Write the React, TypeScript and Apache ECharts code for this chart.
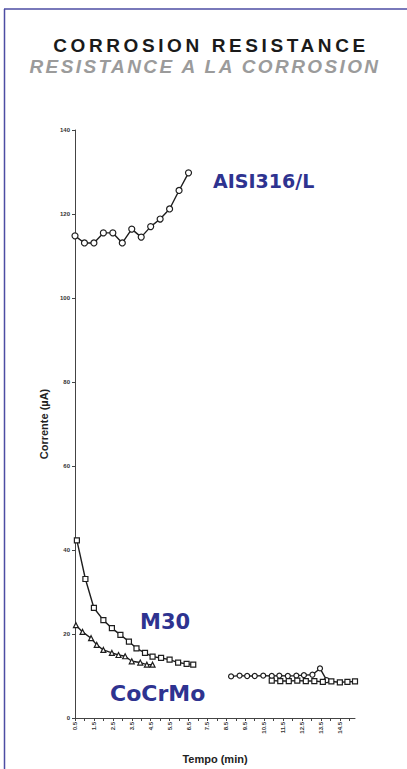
import React, { useEffect, useRef } from "react";
import * as echarts from "echarts";

const titleMain = "CORROSION RESISTANCE";
const titleSub = "RESISTANCE A LA CORROSION";
const yAxisName = "Corrente (µA)";
const xAxisName = "Tempo (min)";

const aisiTime = [0.5, 1.0, 1.5, 2.0, 2.5, 3.0, 3.5, 4.0, 4.5, 5.0, 5.5, 6.0, 6.5];
const aisiCurrent = [114.8, 113.1, 113.1, 115.5, 115.5, 113.1, 116.4, 114.5, 117.0, 118.8, 121.2, 125.6, 129.8];

const m30Time = [0.6, 1.05, 1.5, 2.0, 2.45, 2.9, 3.35, 3.75, 4.2, 4.6, 5.05, 5.5, 5.95, 6.4, 6.75];
const m30Current = [42.3, 33.1, 26.2, 23.3, 21.4, 19.8, 18.2, 16.6, 15.5, 14.6, 14.3, 13.9, 13.2, 12.9, 12.7];

const cocrmoTime = [0.55, 0.9, 1.35, 1.65, 2.0, 2.45, 2.8, 3.15, 3.5, 3.95, 4.3, 4.6];
const cocrmoCurrent = [22.1, 20.5, 19.0, 17.4, 16.2, 15.5, 15.0, 14.7, 13.5, 13.2, 12.7, 12.7];

const m30LateTime = [8.75, 9.2, 9.6, 10.0, 10.45, 10.9, 11.3, 11.75, 12.2, 12.6, 13.05, 13.45, 13.8];
const m30LateCurrent = [9.9, 10.1, 10.0, 10.0, 10.1, 10.0, 10.1, 10.0, 10.1, 10.2, 10.3, 11.8, 9.0];

const cocrmoLateTime = [10.9, 11.35, 11.8, 12.25, 12.7, 13.15, 13.6, 14.05, 14.5, 14.9, 15.3];
const cocrmoLateCurrent = [8.9, 8.8, 8.8, 8.9, 8.8, 8.8, 8.6, 8.7, 8.5, 8.6, 8.7];

const zip = (xs: number[], ys: number[]) => xs.map((x, i) => [x, ys[i]]);

export default function App() {
  const ref = useRef<HTMLDivElement>(null);
  useEffect(() => {
    document.body.style.margin = "0";
    const chart = echarts.init(ref.current!, null, { renderer: "svg" });
    const lineStyle = { color: "#1e1e1e", width: 1.4 };
    const itemStyle = { color: "#fff", borderColor: "#1e1e1e", borderWidth: 1.2 };
    const mk = (name: string, data: number[][], symbol: string, size: number) => ({
      type: "line",
      name,
      data,
      symbol,
      symbolSize: size,
      showSymbol: true,
      lineStyle,
      itemStyle,
      z: 3,
    });
    const blue = "#2e3390";
    const labelFont = (s: number) => `bold ${s}px 'DejaVu Sans', sans-serif`;
    chart.setOption({
      animation: false,
      backgroundColor: "#fff",
      grid: { left: 75, right: 52, top: 130, bottom: 45 },
      xAxis: {
        type: "value",
        min: 0.5,
        max: 15.3,
        interval: 0.5,
        name: xAxisName,
        nameLocation: "middle",
        nameGap: 35,
        nameTextStyle: { fontFamily: "Liberation Sans, Arial", fontWeight: "bold", fontSize: 11, color: "#222" },
        axisLine: { lineStyle: { color: "#444", width: 1 } },
        axisTick: { show: true, length: 3, lineStyle: { color: "#444" } },
        splitLine: { show: false },
        axisLabel: {
          rotate: 90,
          fontSize: 6,
          fontWeight: "bold",
          color: "#333",
          margin: 4,
          showMinLabel: true,
          showMaxLabel: false,
          formatter: (v: number) => (Math.round(v * 2) % 2 === 1 ? v.toFixed(1) : ""),
        },
      },
      yAxis: {
        type: "value",
        min: 0,
        max: 140,
        interval: 20,
        name: yAxisName,
        nameLocation: "middle",
        nameGap: 26,
        nameRotate: 90,
        nameTextStyle: { fontFamily: "Liberation Sans, Arial", fontWeight: "bold", fontSize: 11, color: "#222" },
        axisLine: { show: true, lineStyle: { color: "#444", width: 1 } },
        axisTick: { show: true, length: 3, lineStyle: { color: "#444" } },
        splitLine: { show: false },
        axisLabel: { fontSize: 6, fontWeight: "bold", color: "#333", margin: 5 },
      },
      series: [
        mk("AISI316/L", zip(aisiTime, aisiCurrent), "circle", 6),
        mk("M30", zip(m30Time, m30Current), "rect", 5),
        mk("CoCrMo", zip(cocrmoTime, cocrmoCurrent), "triangle", 5),
        mk("M30 ", zip(m30LateTime, m30LateCurrent), "circle", 5),
        mk("CoCrMo ", zip(cocrmoLateTime, cocrmoLateCurrent), "rect", 5),
      ],
      graphic: [
        { type: "line", shape: { x1: 4.5, y1: 9, x2: 4.5, y2: 769 }, style: { stroke: "#4d4da3", lineWidth: 1.5 } },
        { type: "line", shape: { x1: 4, y1: 9, x2: 407, y2: 9 }, style: { stroke: "#4d4da3", lineWidth: 1.5 } },
        {
          type: "text",
          x: 211,
          y: 45,
          style: {
            text: titleMain,
            fill: "#1a1a1a",
            font: "bold 19px 'Liberation Sans', Arial",
            textAlign: "center",
            textVerticalAlign: "middle",
          },
        },
        {
          type: "text",
          x: 205,
          y: 66,
          style: {
            text: titleSub,
            fill: "#9b9b9b",
            font: "italic bold 19px 'Liberation Sans', Arial",
            textAlign: "center",
            textVerticalAlign: "middle",
          },
        },
        {
          type: "text",
          x: 213,
          y: 181,
          style: { text: "AISI316/L", fill: blue, font: labelFont(19), textVerticalAlign: "middle" },
        },
        {
          type: "text",
          x: 140,
          y: 622,
          style: { text: "M30", fill: blue, font: labelFont(21), textVerticalAlign: "middle" },
        },
        {
          type: "text",
          x: 110,
          y: 693,
          style: { text: "CoCrMo", fill: blue, font: labelFont(22), textVerticalAlign: "middle" },
        },
      ],
    });
    // widen the tracking of the two heading lines, as in the printed sheet
    const spacing: Record<string, string> = { [titleMain]: "3.6px", [titleSub]: "2.4px" };
    ref.current!.querySelectorAll("text").forEach((t) => {
      const s = spacing[(t.textContent || "").trim()];
      if (s) (t as SVGTextElement).style.letterSpacing = s;
    });
    return () => chart.dispose();
  }, []);
  return <div ref={ref} style={{ position: "fixed", left: 0, top: 0, width: 407, height: 769 }} />;
}
